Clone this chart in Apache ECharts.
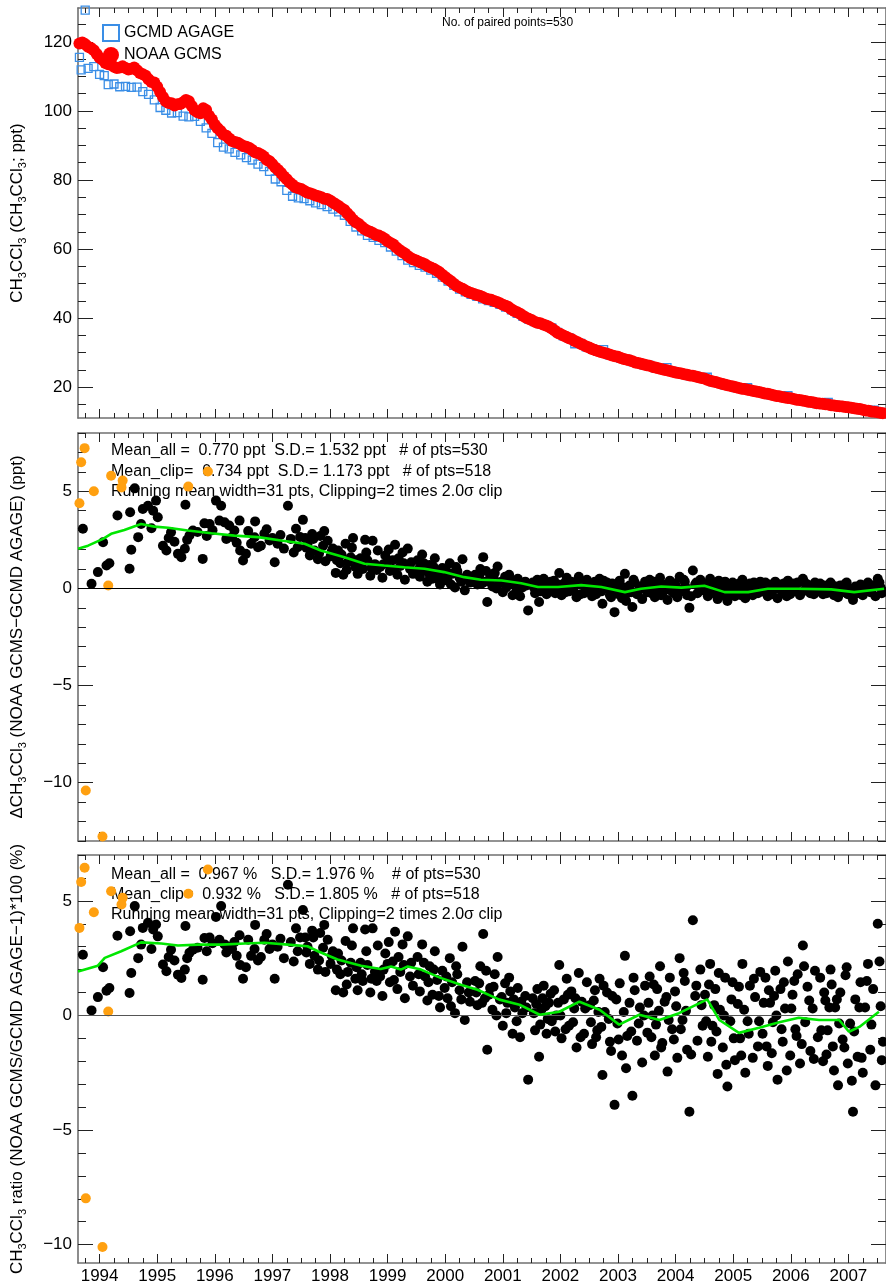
<!DOCTYPE html>
<html><head><meta charset="utf-8">
<script src="https://cdn.jsdelivr.net/npm/echarts@6/dist/echarts.min.js"></script>
<style>html,body{margin:0;padding:0;background:#fff}#c{width:886px;height:1286px}</style>
</head><body><div id="c"></div><script>
// ---------------- DATA ----------------
const yearLabels = ['1994','1995','1996','1997','1998','1999','2000','2001','2002','2003','2004','2005','2006','2007'];

// Panel 1: mixing ratios (ppt), [decimal year, value]
const noaaPts = [
[1994.15,119.5],[1994.25,119.3],[1994.35,118.2],[1994.45,116.5],[1994.55,114.8],[1994.65,113.5],[1994.75,112.8],[1994.85,112.6],[1994.95,112.4],[1995.05,112.2],
[1995.15,111.8],[1995.25,110.6],[1995.35,109.2],[1995.45,108.2],[1995.55,105.5],[1995.65,102.8],[1995.75,102.2],[1995.85,101.9],[1995.95,102.5],[1996.05,102.8],
[1996.15,100.2],[1996.25,99.3],[1996.35,100.3],[1996.45,97.5],[1996.55,95.0],[1996.65,93.2],[1996.75,92.0],[1996.85,91.0],[1996.95,90.3],[1997.05,89.6],
[1997.15,88.7],[1997.25,87.8],[1997.35,86.8],[1997.45,85.4],[1997.55,83.6],[1997.65,82.0],[1997.75,80.2],[1997.85,78.6],[1997.95,77.6],[1998.05,76.9],
[1998.15,76.2],[1998.25,75.5],[1998.35,75.0],[1998.45,74.5],[1998.55,73.5],[1998.65,72.5],[1998.75,71.3],[1998.85,69.5],[1998.95,67.8],[1999.05,66.5],
[1999.15,65.3],[1999.25,64.6],[1999.35,63.9],[1999.45,63.0],[1999.55,61.8],[1999.65,60.5],[1999.75,59.2],[1999.85,58.0],[1999.95,57.0],[2000.05,56.3],
[2000.15,55.6],[2000.25,54.7],[2000.35,53.8],[2000.45,52.6],[2000.55,51.3],[2000.65,50.0],[2000.75,48.9],[2000.85,48.0],[2000.95,47.3],[2001.05,46.7],
[2001.15,46.1],[2001.25,45.5],[2001.35,45.0],[2001.45,44.3],[2001.55,43.6],[2001.65,42.6],[2001.75,41.7],[2001.85,40.7],[2001.95,39.8],[2002.05,39.0],
[2002.15,38.5],[2002.25,37.9],[2002.35,37.0],[2002.45,35.8],[2002.55,35.0],[2002.65,34.2],[2002.75,33.4],[2002.85,32.6],[2002.95,31.8],[2003.05,31.1],
[2003.15,30.5],[2003.25,30.0],[2003.35,29.5],[2003.45,29.0],[2003.55,28.5],[2003.65,28.0],[2003.75,27.5],[2003.85,27.0],[2003.95,26.6],[2004.05,26.2],
[2004.15,25.7],[2004.25,25.3],[2004.35,24.9],[2004.45,24.5],[2004.55,24.1],[2004.65,23.8],[2004.75,23.4],[2004.85,23.1],[2004.95,22.7],[2005.05,22.2],
[2005.15,21.7],[2005.25,21.2],[2005.35,20.8],[2005.45,20.4],[2005.55,20.0],[2005.65,19.6],[2005.75,19.3],[2005.85,18.9],[2005.95,18.6],[2006.05,18.2],
[2006.15,17.9],[2006.25,17.5],[2006.35,17.2],[2006.45,16.9],[2006.55,16.6],[2006.65,16.3],[2006.75,16.0],[2006.85,15.7],[2006.95,15.4],[2007.05,15.2],
[2007.15,15.0],[2007.25,14.7],[2007.35,14.5],[2007.45,14.3],[2007.55,14.1],[2007.65,13.8],[2007.75,13.5],[2007.85,13.2],[2007.95,12.9],[2008.05,12.6],
[1994.20,119.8],[1994.30,118.6],[1994.40,117.6],[1994.50,115.4],[1994.60,113.9],[1994.70,113.4],[1994.80,112.4],[1994.90,112.9],[1995.00,112.0],[1995.10,112.6],
[1995.20,111.0],[1995.30,110.2],[1995.40,108.4],[1995.50,107.0],[1995.60,104.0],[1995.70,102.3],[1995.80,101.6],[1995.90,102.0],[1996.00,103.2],[1996.10,101.4],
[1996.20,99.6],[1996.30,100.8],[1996.40,98.6],[1996.50,96.0],[1996.60,94.2],[1996.70,92.8],[1996.80,91.3],[1996.90,90.8],[1997.00,89.8],[1997.10,89.3],
[1997.20,88.0],[1997.30,87.4],[1997.40,85.9],[1997.50,84.6],[1997.60,82.9],[1997.70,81.0],[1997.80,79.3],[1997.90,77.9],[1998.00,77.4],[1998.10,76.4],
[1998.20,75.9],[1998.30,75.3],[1998.40,74.6],[1998.50,74.1],[1998.60,73.0],[1998.70,71.8],[1998.80,70.4],[1998.90,68.5],[1999.00,67.3],[1999.10,65.8],
[1999.20,65.0],[1999.30,64.1],[1999.40,63.5],[1999.50,62.3],[1999.60,61.3],[1999.70,59.8],[1999.80,58.7],[1999.90,57.4],[2000.00,56.7],[2000.10,56.0],
[2000.20,55.0],[2000.30,54.3],[2000.40,53.3],[2000.50,51.9],[2000.60,50.7],[2000.70,49.3],[2000.80,48.5],[2000.90,47.6],[2001.00,47.0],[2001.10,46.5],
[2001.20,45.7],[2001.30,45.3],[2001.40,44.7],[2001.50,43.9],[2001.60,43.2],[2001.70,42.1],[2001.80,41.3],[2001.90,40.2],[2002.00,39.5],[2002.10,38.7],
[2002.20,38.2],[2002.30,37.5],[2002.40,36.4],[2002.50,35.4],[2002.60,34.6],[2002.70,33.9],[2002.80,33.0],[2002.90,32.2],[2003.00,31.5],[2003.10,30.8],
[2003.20,30.2],[2003.30,29.8],[2003.40,29.2],[2003.50,28.8],[2003.60,28.2],[2003.70,27.8],[2003.80,27.2],[2003.90,26.8],[2004.00,26.4],[2004.10,25.9],
[2004.20,25.5],[2004.30,25.1],[2004.40,24.7],[2004.50,24.3],[2004.60,24.0],[2004.70,23.6],[2004.80,23.3],[2004.90,22.9],[2005.00,22.5],[2005.10,21.9],
[2005.20,21.5],[2005.30,21.0],[2005.40,20.6],[2005.50,20.2],[2005.60,19.8],[2005.70,19.5],[2005.80,19.1],[2005.90,18.8],[2006.00,18.4],[2006.10,18.1],
[2006.20,17.7],[2006.30,17.4],[2006.40,17.0],[2006.50,16.8],[2006.60,16.4],[2006.70,16.2],[2006.80,15.8],[2006.90,15.6],[2007.00,15.3],[2007.10,15.1],
[2007.20,14.8],[2007.30,14.6],[2007.40,14.4],[2007.50,14.2],[2007.60,13.9],[2007.70,13.7],[2007.80,13.3],[2007.90,13.0],[2008.00,12.8],[2008.10,12.5]
];
const agagePts = [
[1994.15,115.5],[1994.18,111.9],[1994.25,129.2],[1994.30,112.3],[1994.40,112.8],[1994.50,110.6],[1994.58,110.2],[1994.65,107.6],[1994.75,107.8],[1994.85,107.0],
[1994.95,107.1],[1995.05,106.8],[1995.15,106.9],[1995.25,105.6],[1995.35,104.8],[1995.45,103.2],[1995.55,101.0],[1995.65,100.2],[1995.75,99.4],[1995.85,99.5],
[1995.95,98.5],[1996.05,98.3],[1996.15,98.4],[1996.25,97.0],[1996.35,95.1],[1996.45,93.5],[1996.55,90.8],[1996.65,89.5],[1996.75,89.0],[1996.85,88.0],
[1996.95,87.3],[1997.05,86.5],[1997.15,85.8],[1997.25,84.6],[1997.35,83.9],[1997.45,82.5],[1997.55,80.3],[1997.65,79.5],[1997.75,77.0],[1997.85,75.3],
[1997.95,74.8],[1998.05,74.6],[1998.15,74.0],[1998.25,73.4],[1998.35,72.9],[1998.45,72.3],[1998.55,71.6],[1998.65,70.8],[1998.75,69.8],[1998.85,68.0],
[1998.95,66.4],[1999.05,65.3],[1999.15,64.0],[1999.25,63.4],[1999.35,62.5],[1999.45,61.9],[1999.55,60.6],[1999.65,59.4],[1999.75,58.1],[1999.85,56.8],
[1999.95,56.1],[2000.05,55.3],[2000.15,54.8],[2000.25,53.9],[2000.35,53.0],[2000.45,51.9],[2000.55,50.7],[2000.65,49.5],[2000.75,48.4],[2000.85,47.6],
[2000.95,46.9],[2001.05,46.3],[2001.15,45.6],[2001.25,45.1],[2001.35,44.6],[2001.45,44.0],[2001.55,43.2],[2001.65,42.4],[2001.75,41.4],[2001.85,40.5],
[2001.95,39.7],[2002.05,39.0],[2002.15,38.4],[2002.25,37.9],[2002.35,37.2],[2002.45,35.9],[2002.55,34.9],[2002.65,34.3],[2002.75,32.6],[2002.85,32.7],
[2002.95,31.7],[2003.05,31.2],[2003.15,30.4],[2003.25,30.9],[2003.35,29.4],[2003.45,29.1],[2003.55,28.4],[2003.65,28.1],[2003.75,27.4],[2003.85,27.1],
[2003.95,26.5],[2004.05,26.3],[2004.15,25.6],[2004.25,25.4],[2004.35,25.7],[2004.45,24.6],[2004.55,24.0],[2004.65,23.9],[2004.75,23.3],[2004.85,23.2],
[2004.95,22.6],[2005.05,22.9],[2005.15,21.6],[2005.25,21.3],[2005.35,20.7],[2005.45,20.5],[2005.55,19.9],[2005.65,19.7],[2005.75,19.9],[2005.85,19.0],
[2005.95,18.5],[2006.05,18.3],[2006.15,17.8],[2006.25,17.6],[2006.35,17.1],[2006.45,17.6],[2006.55,16.5],[2006.65,16.4],[2006.75,15.9],[2006.85,15.8],
[2006.95,15.3],[2007.05,15.3],[2007.15,15.6],[2007.25,14.8],[2007.35,14.4],[2007.45,14.4],[2007.55,14.0],[2007.65,13.9],[2007.75,13.4],[2007.85,13.3],
[2007.95,13.4],[2008.05,12.7]
];

// Panels 2 & 3: paired points kept after clipping (year, NOAA-AGAGE diff in ppt, ratio in %)
const pairYear = [
1994.21,1994.36,1994.47,1994.56,1994.62,1994.67,1994.81,1995.02,1995.05,1995.03,
1995.11,1995.17,1995.22,1995.25,1995.34,1995.43,1995.48,1995.51,1995.60,1995.66,
1995.74,1995.86,1995.92,1995.98,1995.99,1996.06,1996.12,1996.29,1996.32,1996.41,
1996.52,1996.61,1996.58,1996.67,1996.75,1996.84,1996.93,1996.94,1996.99,1997.04,
1997.13,1997.19,1997.25,1997.36,1997.45,1997.54,1997.59,1997.77,1997.91,1997.94,
1998.03,1995.40,1995.70,1995.80,1996.02,1996.20,1996.36,1996.46,1996.70,1996.80,
1996.88,1997.08,1997.30,1997.40,1997.50,1997.64,1997.70,1997.82,1997.87,1997.98,
1997.20,
1998.07,1998.11,1998.15,1998.19,1998.23,1998.29,1998.33,1998.38,1998.42,1998.46,1998.51,1998.55,1998.60,1998.64,1998.68,1998.73,1998.77,1998.81,1998.86,1998.90,1998.94,1998.98,
1999.03,1999.07,1999.11,1999.15,1999.20,1999.24,1999.28,1999.33,1999.37,1999.41,1999.46,1999.50,1999.54,1999.59,1999.63,1999.67,1999.72,1999.76,1999.80,1999.85,1999.89,1999.94,
2000.02,2000.06,2000.10,2000.15,2000.19,2000.23,2000.28,2000.32,2000.36,2000.41,2000.45,2000.49,2000.54,2000.58,2000.62,2000.67,2000.71,2000.75,2000.80,2000.84,2000.88,2000.93,
2001.02,2001.06,2001.11,2001.16,2001.19,2001.23,2001.28,2001.32,2001.36,2001.41,2001.45,2001.50,2001.54,2001.58,2001.63,2001.67,2001.71,2001.76,2001.80,2001.84,2001.89,2001.94,
2002.02,2002.06,2002.10,2002.13,2002.17,2002.21,2002.26,2002.30,2002.35,2002.39,2002.43,2002.48,2002.52,2002.56,2002.61,2002.65,2002.69,2002.74,2002.78,2002.82,2002.87,2002.91,2002.96,
2003.01,2003.05,2003.10,2003.14,2003.18,2003.23,2003.27,2003.31,2003.36,2003.40,2003.44,2003.49,2003.53,2003.57,2003.62,2003.66,2003.70,2003.75,2003.79,2003.83,2003.88,2003.92,2003.97,
2004.01,2004.05,2004.10,2004.14,2004.18,2004.23,2004.27,2004.31,2004.36,2004.40,2004.44,2004.49,2004.53,2004.57,2004.62,2004.66,2004.70,2004.74,2004.80,2004.84,2004.88,2004.93,2004.97,
2005.01,2005.06,2005.10,2005.14,2005.19,2005.23,2005.27,2005.32,2005.36,2005.40,2005.45,2005.49,2005.53,2005.58,2005.62,2005.66,2005.71,2005.75,2005.79,2005.84,2005.88,2005.93,2005.97,
2006.01,2006.06,2006.10,2006.14,2006.19,2006.23,2006.27,2006.32,2006.36,2006.40,2006.45,2006.49,2006.53,2006.58,2006.62,2006.66,2006.71,2006.75,2006.79,2006.84,2006.88,2006.92,2006.97,
2007.01,2007.06,2007.10,2007.14,2007.19,2007.23,2007.27,2007.32,2007.36,2007.40,2007.45,2007.49,2007.53,2007.58,2007.62,2007.66,2007.71,2007.75,2007.79,2007.84,2007.88,2007.93,2007.97,2008.01,2008.06,2008.10,
1998.09,1998.21,1998.31,1998.40,1998.53,1998.62,1998.70,1998.79,1998.88,1998.96,
1999.05,1999.13,1999.22,1999.31,1999.43,1999.52,1999.61,1999.69,1999.78,1999.91,
2000.04,2000.13,2000.21,2000.30,2000.39,2000.52,2000.60,2000.69,2000.78,2000.91,
2001.04,2001.09,2001.14,2001.21,2001.26,2001.34,2001.39,2001.48,2001.56,2001.61,2001.69,2001.74,2001.82,2001.91,
2002.04,2002.08,2002.15,2002.19,2002.24,2002.28,2002.33,2002.41,2002.46,2002.50,2002.59,2002.63,2002.72,2002.76,2002.85,2002.93,
2003.03,2003.08,2003.12,2003.16,2003.21,2003.25,2003.34,2003.38,2003.47,2003.51,2003.60,2003.64,2003.73,2003.77,2003.86,2003.95,
2004.03,2004.08,2004.12,2004.16,2004.21,2004.25,2004.34,2004.38,2004.47,2004.51,2004.59,2004.64,2004.68,2004.77,2004.86,2004.95,
2005.03,2005.08,2005.12,2005.17,2005.21,2005.25,2005.34,2005.38,2005.47,2005.51,2005.60,2005.64,2005.69,2005.77,2005.86,2005.95,
2006.03,2006.08,2006.12,2006.17,2006.21,2006.25,2006.34,2006.38,2006.43,2006.51,2006.56,2006.60,2006.69,2006.73,2006.82,2006.90,
2007.03,2007.08,2007.12,2007.17,2007.21,2007.25,2007.30,2007.34,2007.43,2007.47,2007.56,2007.60,2007.69,2007.73,2007.82,2007.90,
2008.04,2008.08
];
const diffPpt = [
3.07,0.24,0.84,2.38,1.18,1.30,3.75,1.01,1.99,3.92,
5.15,2.64,3.32,4.09,4.26,4.00,4.52,3.66,2.20,1.95,
2.89,1.78,1.61,2.04,4.31,2.72,2.98,1.52,3.35,3.32,
4.52,4.26,3.49,3.40,3.24,2.98,3.49,1.95,1.44,1.78,
2.30,2.63,2.12,2.81,2.47,1.35,2.30,4.26,3.07,2.12,
3.53,3.10,2.60,2.40,2.50,2.90,2.70,3.00,2.55,2.65,
2.35,2.95,2.20,3.05,2.60,2.75,2.05,2.55,1.85,2.65,
3.45,
2.60,2.30,1.70,2.80,1.95,1.50,2.70,2.20,1.40,2.45,1.65,2.05,0.80,1.95,1.30,0.70,2.30,1.35,1.60,2.60,1.10,0.75,
1.55,1.00,2.50,1.45,0.65,2.45,1.25,1.95,1.10,0.55,1.70,1.40,0.90,1.45,2.25,0.70,1.15,1.85,0.45,2.05,1.00,0.75,
1.45,0.60,1.75,0.95,0.35,1.20,0.50,1.55,0.85,0.20,1.05,0.65,0.40,1.30,0.75,0.05,0.90,0.55,1.50,-0.10,0.70,0.30,
0.70,0.20,1.00,1.61,0.35,-0.70,0.55,0.10,0.80,1.13,0.30,-0.20,0.60,0.25,0.45,-0.35,0.15,0.50,-0.40,0.05,0.35,-1.13,
0.30,-0.25,0.45,-0.70,0.10,0.50,-0.30,0.20,-0.10,0.40,0.00,0.79,-0.35,0.25,0.55,-0.15,0.35,0.10,-0.45,0.60,0.20,-0.25,0.45,
0.15,-0.40,0.35,-0.20,0.50,-0.79,0.05,0.30,-0.35,0.25,-1.22,-0.10,0.40,-0.50,0.75,-0.25,0.15,-0.96,0.30,-0.30,0.10,-0.55,0.35,
-0.20,0.45,0.00,-0.45,0.30,0.55,-0.30,0.15,-0.60,0.40,-0.15,0.25,-0.45,0.60,-0.05,0.35,-0.35,-1.00,0.92,0.20,-0.25,0.45,-0.10,
0.20,-0.40,0.50,-0.10,0.25,-0.55,0.05,-0.30,0.35,-0.65,-0.05,0.30,-0.40,0.10,-0.20,0.45,-0.50,-0.05,0.25,-0.35,0.15,-0.25,0.35,
-0.15,0.30,-0.40,0.10,-0.05,0.35,-0.50,0.20,-0.20,0.05,0.40,-0.30,0.15,-0.10,0.30,-0.35,0.50,-0.05,0.20,-0.25,0.05,0.30,-0.15,
0.25,-0.30,0.10,-0.10,0.30,-0.20,0.05,-0.45,0.15,-0.15,0.25,-0.30,-0.05,-0.60,0.10,-0.25,0.20,-0.35,0.05,0.30,-0.20,0.15,-0.40,0.50,0.05,-0.15,
2.10,2.55,1.80,2.95,1.90,1.45,1.75,0.95,2.10,1.45,
1.20,1.85,1.05,0.95,1.25,2.00,0.95,1.55,1.30,1.35,
1.00,1.30,0.80,1.10,0.45,0.90,0.20,1.10,0.35,0.50,
0.45,0.65,0.25,0.90,0.40,0.55,0.00,0.35,0.05,0.70,0.30,-0.10,0.25,0.15,
0.05,0.20,-0.15,0.30,0.15,-0.05,0.35,-0.25,0.20,0.00,-0.20,0.30,-0.10,0.25,-0.30,0.10,
-0.10,0.20,-0.30,0.05,-0.15,0.40,-0.05,-0.45,0.20,-0.30,0.05,-0.65,-0.20,0.45,-0.10,0.00,
0.15,-0.25,0.35,-0.10,0.05,-0.35,0.20,-0.05,-0.25,0.10,-0.15,0.45,0.05,-0.40,0.30,0.10,
-0.05,0.30,-0.25,0.10,-0.15,0.40,0.00,-0.45,0.15,-0.20,0.25,-0.35,0.05,-0.15,0.30,-0.05,
0.10,-0.25,0.20,-0.30,0.15,0.00,-0.10,0.25,-0.40,0.05,0.25,-0.15,-0.20,0.35,0.10,-0.30,
-0.10,0.15,-0.25,0.05,0.20,-0.35,0.10,-0.05,-0.20,0.30,-0.40,-0.10,0.05,-0.25,0.20,-0.05,
0.30,-0.25
];
const ratioPct = [
2.65,0.22,0.80,2.10,1.08,1.20,3.48,0.98,1.85,3.67,
4.77,2.50,3.09,3.82,4.04,3.75,3.97,3.45,2.22,1.93,
2.87,1.78,1.63,2.00,3.90,2.73,2.87,1.56,3.38,3.40,
4.30,4.77,3.30,3.10,3.00,3.20,3.50,2.20,1.60,2.10,
2.60,2.90,2.40,3.30,2.90,1.60,3.00,5.70,3.80,2.80,
4.60,2.90,2.55,2.40,2.50,2.95,2.80,3.15,2.75,2.90,
2.60,3.30,2.55,3.55,3.10,3.35,2.50,3.20,2.35,3.40,
3.95,
3.40,3.00,2.25,3.70,2.60,2.00,3.60,2.95,1.90,3.30,2.25,2.80,1.10,2.70,1.80,1.00,3.25,1.90,2.30,3.80,1.60,1.10,
2.30,1.50,3.75,2.20,1.00,3.80,1.90,3.05,1.70,0.85,2.70,2.25,1.45,2.35,3.65,1.15,1.90,3.10,0.75,3.45,1.70,1.30,
2.55,1.05,3.10,1.70,0.65,2.15,0.90,2.80,1.55,0.35,1.95,1.20,0.75,2.50,1.45,0.10,1.80,1.10,3.00,-0.20,1.45,0.60,
1.50,0.45,2.15,3.55,0.75,-1.50,1.20,0.25,1.80,2.55,0.70,-0.45,1.40,0.55,1.05,-0.80,0.35,1.20,-0.95,0.10,0.85,-2.80,
0.75,-0.65,1.15,-1.80,0.25,1.30,-0.80,0.55,-0.25,1.10,0.00,2.20,-1.00,0.70,1.60,-0.45,1.05,0.30,-1.40,1.85,0.60,-0.80,1.45,
0.45,-1.25,1.10,-0.65,1.60,-2.60,0.15,1.00,-1.15,0.85,-3.90,-0.35,1.40,-1.75,2.60,-0.90,0.55,-3.50,1.10,-1.10,0.35,-2.05,1.30,
-0.75,1.70,0.00,-1.75,1.15,2.15,-1.20,0.60,-2.45,1.65,-0.60,1.05,-1.85,2.50,-0.20,1.50,-1.50,-4.20,4.15,0.85,-1.10,2.00,-0.45,
0.90,-1.80,2.25,-0.45,1.15,-2.55,0.25,-1.40,1.65,-3.10,-0.25,1.45,-1.95,0.50,-1.00,2.25,-2.50,-0.25,1.30,-1.85,0.80,-1.35,1.90,
-0.80,1.65,-2.20,0.55,-0.30,1.95,-2.80,1.15,-1.15,0.30,2.35,-1.75,0.90,-0.60,1.80,-2.10,3.05,-0.30,1.25,-1.55,0.30,1.95,-0.95,
1.65,-2.00,0.65,-0.65,2.00,-1.35,0.35,-3.05,1.00,-1.05,1.75,-2.10,-0.35,-4.20,0.70,-1.80,1.45,-2.50,0.35,2.25,-1.50,1.15,-3.05,4.00,0.40,-1.15,
2.75,3.40,2.40,3.95,2.60,2.00,2.40,1.35,3.05,2.10,
1.80,2.80,1.60,1.50,2.00,3.20,1.55,2.55,2.20,2.30,
1.80,2.30,1.45,2.00,0.85,1.70,0.40,2.15,0.70,1.00,
1.00,1.40,0.55,1.95,0.90,1.25,0.00,0.80,0.10,1.65,0.70,-0.25,0.60,0.35,
0.10,0.50,-0.40,0.75,0.40,-0.15,0.95,-0.70,0.55,0.00,-0.60,0.90,-0.30,0.75,-0.95,0.30,
-0.30,0.65,-0.95,0.15,-0.50,1.30,-0.15,-1.55,0.70,-1.05,0.15,-2.30,-0.70,1.65,-0.35,0.00,
0.55,-0.95,1.35,-0.40,0.20,-1.40,0.80,-0.20,-1.05,0.40,-0.60,1.85,0.20,-1.70,1.30,0.45,
-0.25,1.35,-1.15,0.45,-0.70,1.85,0.00,-2.15,0.70,-1.00,1.25,-1.75,0.25,-0.80,1.60,-0.25,
0.55,-1.35,1.10,-1.65,0.85,0.00,-0.60,1.45,-2.40,0.30,1.50,-0.90,-1.25,2.15,0.65,-1.90,
-0.65,1.00,-1.70,0.35,1.35,-2.40,0.70,-0.35,-1.40,2.10,-2.85,-0.70,0.35,-1.85,1.50,-0.40,
2.35,-1.95
];

// clipped (rejected) points, orange
const clipYear  = [1994.24,1994.18,1994.70,1994.90,1994.88,1994.40,1994.15,1996.38,1996.04,1994.65,1994.26,1994.55];
const clipDiff  = [7.22,6.49,5.80,5.55,5.20,5.00,4.38,6.02,5.24,0.15,-10.40,-12.77];
const clipRatio = [6.44,5.82,5.42,5.13,4.84,4.50,3.82,6.37,5.31,0.17,-7.98,-10.10];

// running means (green)
const runDiffYear = [1994.125,1994.30,1994.56,1994.70,1994.93,1995.22,1995.45,1995.69,1996.03,1996.44,
1996.84,1997.25,1997.65,1998.06,1998.34,1998.75,1999.10,1999.44,1999.79,2000.14,
2000.48,2000.83,2001.12,2001.48,2001.82,2002.11,2002.46,2002.86,2003.21,2003.62,
2003.90,2004.25,2004.60,2005.00,2005.35,2005.76,2006.10,2006.62,2007.20,2007.60,2008.12];
const runDiffVal = [2.04,2.20,2.55,2.81,3.01,3.32,3.18,3.12,2.98,2.84,
2.72,2.64,2.47,2.30,1.95,1.61,1.27,1.18,1.09,1.01,
0.84,0.58,0.45,0.41,0.27,0.07,0.07,0.17,0.07,-0.19,
-0.02,0.10,0.04,0.14,-0.19,-0.19,-0.02,-0.02,-0.05,-0.19,-0.02];
const runRatioYear = [1994.125,1994.47,1994.59,1994.875,1995.22,1995.57,1995.86,1996.21,1996.61,1997.02,
1997.36,1997.77,1998.11,1998.29,1998.63,1999.04,1999.38,1999.56,1999.73,1999.85,
2000.08,2000.42,2000.77,2001.06,2001.44,2001.79,2002.14,2002.48,2002.83,2003.18,
2003.52,2003.87,2004.22,2004.56,2005.05,2005.26,2005.60,2005.95,2006.30,2006.64,
2006.99,2007.34,2007.51,2007.69,2008.03];
const runRatioVal = [1.92,2.17,2.51,2.80,3.19,3.14,3.05,3.09,3.09,3.14,
3.17,3.09,3.02,2.80,2.44,2.17,2.03,2.14,2.00,2.14,
2.00,1.64,1.34,1.12,0.69,0.47,0.03,0.16,0.60,0.25,
-0.40,0.03,-0.20,0.10,0.70,-0.20,-0.76,-0.54,-0.30,-0.10,
-0.20,-0.20,-0.71,-0.50,0.16];

const yTicks1 = [20,40,60,80,100,120];
const yTicks2 = [-10,-5,0,5];
const yTicks3 = [-10,-5,0,5];

const statsDiff = [
  'Mean_all =  0.770 ppt  S.D.= 1.532 ppt   # of pts=530',
  'Mean_clip=  0.734 ppt  S.D.= 1.173 ppt   # of pts=518',
  'Running mean width=31 pts, Clipping=2 times 2.0\u03c3 clip'
];
const statsRatio = [
  'Mean_all =  0.967 %   S.D.= 1.976 %    # of pts=530',
  'Mean_clip=  0.932 %   S.D.= 1.805 %   # of pts=518',
  'Running mean width=31 pts, Clipping=2 times 2.0\u03c3 clip'
];

// ---------------- CHART ----------------
const F = '"Liberation Sans", Arial, Helvetica, sans-serif';
const FN = '"Liberation Sans Narrow", "Arial Narrow", "Liberation Sans", Arial, sans-serif';
const X_MIN = 1994.125, X_MAX = 2008.153;
const zip = (a, b) => a.map((x, i) => [x, b[i]]);
const majorX = yearLabels.map(y => Number(y) + 0.5);
const minorX = [];
for (let k = 0; k <= 60; k++) {
  const q = +(1994 + k * 0.25).toFixed(2);
  if (q <= X_MIN || q >= X_MAX) continue;
  if (Math.abs(q - Math.floor(q) - 0.5) < 1e-6) continue;
  minorX.push(q);
}
const panels = [
  {top: 8,   height: 410, min: 11.1, max: 129.8, major: yTicks1, step: 5,
   name: '{n|CH}{s|3}{n|CCl}{s|3}{n| (CH}{s|3}{n|CCl}{s|3}{n|; ppt)}'},
  {top: 433, height: 408, min: -13, max: 8, major: yTicks2, step: 1,
   name: '{n|\u0394CH}{s|3}{n|CCl}{s|3}{n| (NOAA GCMS\u2212GCMD AGAGE) (ppt)}'},
  {top: 855, height: 408, min: -10.8, max: 7, major: yTicks3, step: 1,
   name: '{n|CH}{s|3}{n|CCl}{s|3}{n| ratio (NOAA GCMS/GCMD AGAGE\u22121)*100 (%)}'}
];
const AX = '#707070';
const grid = [], xAxis = [], yAxis = [];
panels.forEach((p, gi) => {
  grid.push({left: 78, top: p.top, width: 809, height: p.height});
  const minorY = [];
  for (let v = Math.ceil(p.min / p.step) * p.step; v <= p.max; v += p.step) {
    if (!p.major.includes(v)) minorY.push(v);
  }
  const mkX = (pos, vals, len, line, lab) => ({
    type: 'value', gridIndex: gi, position: pos, min: X_MIN, max: X_MAX, offset: 0,
    axisLine: {show: line, onZero: false, lineStyle: {color: AX, width: 1.6}},
    axisTick: {show: true, inside: true, length: len, customValues: vals, lineStyle: {color: '#222', width: 1}},
    axisLabel: lab ? {show: true, customValues: majorX, formatter: v => String(Math.floor(v)),
      color: '#000', fontSize: 17, fontFamily: FN, margin: 5} : {show: false},
    splitLine: {show: false}
  });
  xAxis.push(mkX('bottom', majorX, 9, true, gi === 2));
  xAxis.push(mkX('bottom', minorX, 5, false, false));
  xAxis.push(mkX('top', majorX, 9, true, false));
  xAxis.push(mkX('top', minorX, 5, false, false));
  const mkY = (pos, vals, len, line, lab) => {
    const o = {
      type: 'value', gridIndex: gi, position: pos, min: p.min, max: p.max, offset: 0,
      axisLine: {show: line, onZero: false, lineStyle: {color: AX, width: 1.6}},
      axisTick: {show: true, inside: true, length: len, customValues: vals, lineStyle: {color: '#222', width: 1}},
      axisLabel: lab ? {show: true, customValues: p.major, formatter: v => String(v).replace('-', '\u2212'),
        color: '#000', fontSize: 17, fontFamily: F, margin: 6} : {show: false},
      splitLine: {show: false}
    };
    if (lab) {
      o.name = p.name; o.nameLocation = 'middle'; o.nameGap = 50;
      o.nameTextStyle = {color: '#000', fontFamily: F, fontSize: 17, rich: {
        n: {fontSize: 17, fontFamily: F, color: '#000'},
        s: {fontSize: 11, fontFamily: F, color: '#000', padding: [10, 0, 0, 0]}
      }};
    }
    return o;
  };
  yAxis.push(mkY('left', p.major, 15, true, true));
  yAxis.push(mkY('left', minorY, 8, false, false));
  yAxis.push(mkY('right', p.major, 15, true, false));
  yAxis.push(mkY('right', minorY, 8, false, false));
});

const zeroLine = (color) => ({silent: true, symbol: 'none', label: {show: false},
  lineStyle: {color: color, width: 1.2, type: 'solid'}, data: [{yAxis: 0}]});

const series = [
  {name: 'GCMD AGAGE', type: 'scatter', xAxisIndex: 0, yAxisIndex: 0, data: agagePts,
   symbol: 'rect', symbolSize: 8, itemStyle: {color: 'rgba(255,255,255,0)', borderColor: '#3a8ee6', borderWidth: 1.3, opacity: 1}, z: 2},
  {name: 'NOAA GCMS', type: 'scatter', xAxisIndex: 0, yAxisIndex: 0, data: noaaPts,
   symbol: 'circle', symbolSize: 12, itemStyle: {color: '#ff0000', opacity: 1}, z: 3},
  {name: 'diff', type: 'scatter', xAxisIndex: 4, yAxisIndex: 4, data: zip(pairYear, diffPpt),
   symbolSize: 10, itemStyle: {color: '#000', opacity: 1}, markLine: zeroLine('#000'), z: 3},
  {name: 'diffClip', type: 'scatter', xAxisIndex: 4, yAxisIndex: 4, data: zip(clipYear, clipDiff),
   symbolSize: 10, itemStyle: {color: '#ffa010', opacity: 1}, z: 3},
  {name: 'diffRun', type: 'line', xAxisIndex: 4, yAxisIndex: 4, data: zip(runDiffYear, runDiffVal),
   showSymbol: false, lineStyle: {color: '#00e600', width: 2.6}, z: 5},
  {name: 'ratio', type: 'scatter', xAxisIndex: 8, yAxisIndex: 8, data: zip(pairYear, ratioPct),
   symbolSize: 10, itemStyle: {color: '#000', opacity: 1}, markLine: zeroLine('#555'), z: 3},
  {name: 'ratioClip', type: 'scatter', xAxisIndex: 8, yAxisIndex: 8, data: zip(clipYear, clipRatio),
   symbolSize: 10, itemStyle: {color: '#ffa010', opacity: 1}, z: 3},
  {name: 'ratioRun', type: 'line', xAxisIndex: 8, yAxisIndex: 8, data: zip(runRatioYear, runRatioVal),
   showSymbol: false, lineStyle: {color: '#00e600', width: 2.6}, z: 5}
];

const txt = (x, y, s, size) => ({type: 'text', left: x, top: y, z: 0, silent: true,
  style: {text: s, font: size + 'px ' + F, fill: '#000'}});
const graphic = [txt(442, 17, 'No. of paired points=530', 12)];
statsDiff.forEach((s, i) => graphic.push(txt(111, 443 + i * 20.5, s, 16)));
statsRatio.forEach((s, i) => graphic.push(txt(111, 867 + i * 20, s, 16)));

const chart = echarts.init(document.getElementById('c'), null, {renderer: 'canvas'});
chart.setOption({
  animation: false,
  backgroundColor: '#fff',
  grid, xAxis, yAxis, series, graphic,
  legend: {
    data: [{name: 'GCMD AGAGE', itemStyle: {borderWidth: 2}}, {name: 'NOAA GCMS'}],
    orient: 'vertical', left: 97, top: 19, itemWidth: 16, itemHeight: 16, itemGap: 5,
    textStyle: {fontFamily: F, fontSize: 16, color: '#000'}, selectedMode: false
  }
});
</script></body></html>
